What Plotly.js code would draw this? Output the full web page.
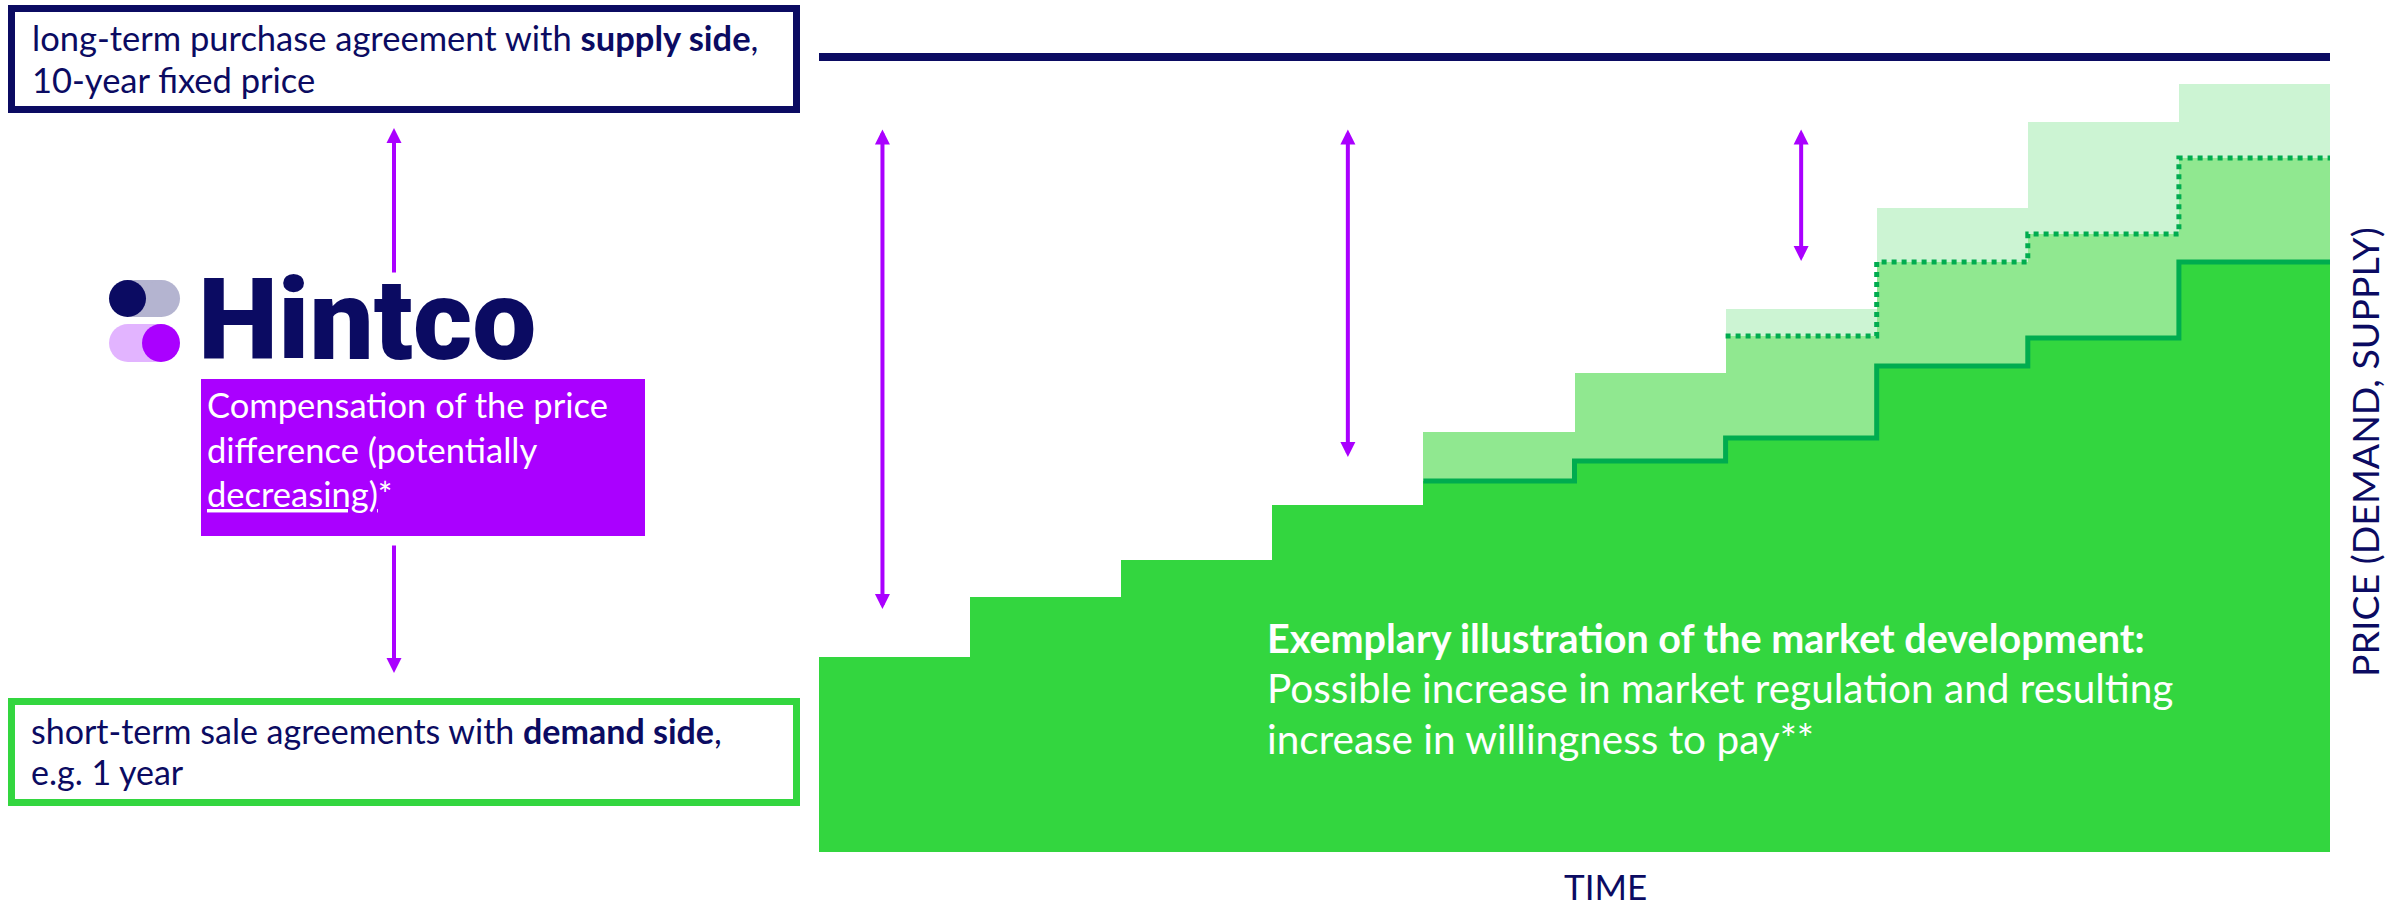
<!DOCTYPE html>
<html>
<head>
<meta charset="utf-8">
<script src="https://cdn.plot.ly/plotly-3.0.1.min.js"></script>
<style>
html,body{margin:0;padding:0;background:#ffffff;}
#chart{width:2407px;height:909px;}
</style>
</head>
<body>
<div id="chart"></div>
<script>
// ---------------- data ----------------
const years       = [1, 2, 3, 4, 5, 6, 7, 8, 9, 10];
// demand-side price, base scenario (bright green)
const demandBase  = [195, 255, 292, 347, 371, 391, 414, 486, 514, 590];
// demand-side price, middle scenario (medium green)
const demandMid   = [null, null, null, null, 420, 479, 516, 590, 618, 694];
// demand-side price, high scenario (very light green)
const demandHigh  = [null, null, null, null, null, null, 543, 644, 730, 768];
// long-term fixed supply price
const supplyPrice = [795, 795, 795, 795, 795, 795, 795, 795, 795, 795];
// positions (in years) of the price-difference arrows
const arrowYears  = [0.92, 4, 7];

// ---------------- styling ----------------
const NAVY = '#0B0B62';
const PURPLE = '#AA00FF';
const GREEN = '#33D63F';
const GREEN_MID = '#90E890';
const GREEN_LIGHT = '#CCF4D3';
const GREEN_DARK = '#00AC4F';
const FONT = 'Lato, "Open Sans", sans-serif';

const W = 2407, H = 909;
const px = x => x / W;
const py = y => 1 - y / H;

function stepLine(vals) {
  const xs = [], ys = [];
  let last = null, lastIdx = -1;
  vals.forEach((v, i) => {
    if (v !== null) { xs.push(years[i] - 0.5); ys.push(v); last = v; lastIdx = i; }
  });
  xs.push(years[lastIdx] + 0.5); ys.push(last);
  return {xs, ys};
}

const midLine = stepLine(demandBase.map((v, i) => demandMid[i] !== null ? v : null));
const dotLine = stepLine(demandMid.map((v, i) => demandHigh[i] !== null ? v : null));
const supLine = stepLine(supplyPrice);

const traces = [
  {type: 'bar', x: years, y: demandHigh, width: 1, marker: {color: GREEN_LIGHT, line: {width: 0}}, hoverinfo: 'skip'},
  {type: 'bar', x: years, y: demandMid, width: 1, marker: {color: GREEN_MID, line: {width: 0}}, hoverinfo: 'skip'},
  {type: 'bar', x: years, y: demandBase, width: 1, marker: {color: GREEN, line: {width: 0}}, hoverinfo: 'skip'},
  {type: 'scatter', mode: 'lines', x: midLine.xs, y: midLine.ys, line: {shape: 'hv', color: GREEN_DARK, width: 5}, hoverinfo: 'skip'},
  {type: 'scatter', mode: 'lines', x: dotLine.xs, y: dotLine.ys, line: {shape: 'hv', color: GREEN_DARK, width: 5, dash: 'dot'}, hoverinfo: 'skip'},
  {type: 'scatter', mode: 'lines', x: supLine.xs, y: supLine.ys, line: {shape: 'hv', color: NAVY, width: 8}, hoverinfo: 'skip'}
];

// ---------------- annotations ----------------
const annotations = [];
function txt(text, x, y, size, color, opts) {
  annotations.push(Object.assign({
    text: text, xref: 'paper', yref: 'paper', x: px(x), y: py(y),
    xanchor: 'left', yanchor: 'middle', align: 'left', showarrow: false,
    font: {family: FONT, size: size, color: color}, borderpad: 0
  }, opts || {}));
}
txt('long-term purchase agreement with <b>supply side</b>,', 31, 37, 34.5, NAVY);
txt('10-year fixed price', 31, 79, 34.5, NAVY);
txt('short-term sale agreements with <b>demand side</b>,', 30, 730, 34, NAVY);
txt('e.g. 1 year', 30, 771, 34, NAVY);
txt('Compensation of the price', 206, 405, 34.5, '#FFFFFF');
txt('difference (potentially', 206, 449, 34.5, '#FFFFFF');
txt('<u>decreasing)</u>*', 206, 494, 34.5, '#FFFFFF');
txt('<b>Exemplary illustration of the market development:</b>', 1266, 637, 39.5, '#FFFFFF');
txt('Possible increase in market regulation and resulting', 1266, 687, 40.5, '#FFFFFF');
txt('increase in willingness to pay**', 1266, 738, 40.5, '#FFFFFF');
txt('TIME', 1605, 886, 35, NAVY, {xanchor: 'center', align: 'center'});
txt('PRICE (DEMAND, SUPPLY)', 2365, 452, 37.5, NAVY, {xanchor: 'center', align: 'center', textangle: -90});
txt('Hintco', 197, 320, 114, NAVY, {font: {family: 'Roboto, Inter, sans-serif', size: 114, color: NAVY, weight: 900}});

// price-difference arrows in the chart
arrowYears.forEach(yr => {
  const i = Math.round(yr) - 1;
  const topDemand = [demandHigh[i], demandMid[i], demandBase[i]].find(v => v !== null);
  annotations.push({
    xref: 'x', yref: 'y', axref: 'x', ayref: 'y',
    x: yr, y: topDemand + 48, ax: yr, ay: supplyPrice[i] - 71,
    text: '', showarrow: true, arrowside: 'end+start',
    arrowhead: 2, startarrowhead: 2, arrowsize: 0.75, startarrowsize: 0.75,
    arrowwidth: 4, arrowcolor: PURPLE, standoff: 0, startstandoff: 0
  });
});
// arrows on the left (contract flow)
annotations.push({xref: 'paper', yref: 'paper', x: px(394), y: py(128), ax: 0, ay: 146,
  text: '', showarrow: true, arrowhead: 2, arrowsize: 0.75, arrowwidth: 4, arrowcolor: PURPLE, standoff: 0});
annotations.push({xref: 'paper', yref: 'paper', x: px(394), y: py(673), ax: 0, ay: -129,
  text: '', showarrow: true, arrowhead: 2, arrowsize: 0.75, arrowwidth: 4, arrowcolor: PURPLE, standoff: 0});

// ---------------- shapes ----------------
function rect(x0, y0, x1, y1, fill, lineColor, lineWidth) {
  return {type: 'rect', xref: 'paper', yref: 'paper', x0: px(x0), x1: px(x1), y0: py(y1), y1: py(y0),
    fillcolor: fill, line: {color: lineColor || 'rgba(0,0,0,0)', width: lineWidth || 0}};
}
function circ(x0, y0, x1, y1, fill) {
  return {type: 'circle', xref: 'paper', yref: 'paper', x0: px(x0), x1: px(x1), y0: py(y1), y1: py(y0),
    fillcolor: fill, line: {width: 0}};
}
const shapes = [
  rect(11.5, 8.5, 796.5, 109.5, 'rgba(0,0,0,0)', NAVY, 7),
  rect(11.5, 701.5, 796.5, 802.5, 'rgba(0,0,0,0)', GREEN, 7),
  rect(201, 379, 645, 536, PURPLE),
  // logo
  rect(127.5, 280, 161.5, 317, '#B4B4D0'),
  circ(143, 280, 180, 317, '#B4B4D0'),
  circ(109, 280, 146, 317, NAVY),
  rect(128, 324, 161, 362, '#E2B4FF'),
  circ(109, 324, 147, 362, '#E2B4FF'),
  circ(142, 324, 180, 362, PURPLE)
];

const layout = {
  width: W, height: H,
  margin: {l: 0, r: 0, t: 0, b: 0, pad: 0},
  paper_bgcolor: '#FFFFFF', plot_bgcolor: 'rgba(0,0,0,0)',
  showlegend: false, barmode: 'overlay', bargap: 0,
  xaxis: {domain: [px(819), px(2330)], range: [0.5, 10.5], visible: false, fixedrange: true},
  yaxis: {domain: [(H - 852) / H, 1], range: [0, 852], visible: false, fixedrange: true},
  annotations: annotations,
  shapes: shapes
};

Plotly.newPlot('chart', traces, layout, {staticPlot: true, displayModeBar: false});
</script>
</body>
</html>
